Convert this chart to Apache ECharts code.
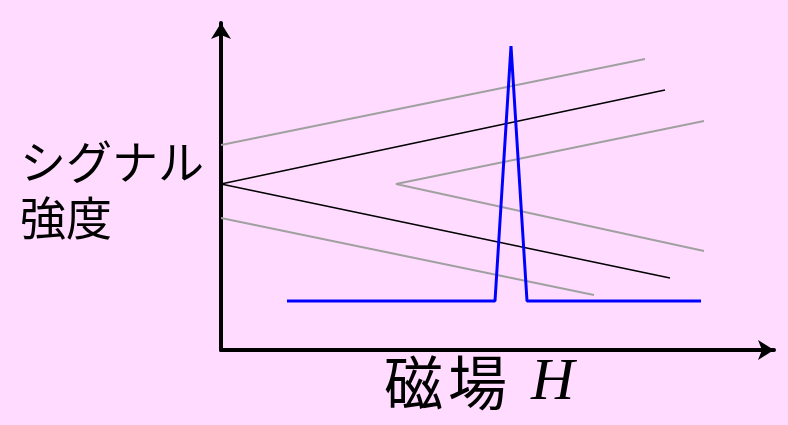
<!DOCTYPE html>
<html>
<head>
<meta charset="utf-8">
<script src="https://cdn.jsdelivr.net/npm/echarts@6/dist/echarts.min.js"></script>
<style>
  html, body { margin: 0; padding: 0; background: #ffdcff; }
  #main { width: 788px; height: 425px; }
</style>
</head>
<body>
<div id="main"></div>
<script>
// 座標は任意単位 (横: 磁場, 縦: シグナル強度)
const blackUpper = [[0, 166], [444, 260]];
const blackLower = [[0, 166], [449, 72]];
const grayUpper = [[0, 205], [424, 291]];
const grayLower = [[0, 132], [373, 55]];
const grayV = [[483, 229], [175, 166], [483, 99]];
const peak = [[66, 49], [274, 49], [290, 304], [306, 49], [480, 49]];

const chart = echarts.init(document.getElementById('main'));

function line(data, color, width) {
  return {
    type: 'line',
    data: data,
    symbol: 'none',
    silent: true,
    lineStyle: { color: color, width: width },
    animation: false
  };
}

const option = {
  backgroundColor: '#ffdcff',
  grid: { left: 221, top: 23, width: 553, height: 327 },
  xAxis: {
    type: 'value',
    min: 0,
    max: 553,
    axisLine: {
      lineStyle: { color: '#000', width: 4 },
      symbol: ['none', 'arrow'],
      symbolSize: [15, 16]
    },
    axisTick: { show: false },
    axisLabel: { show: false },
    splitLine: { show: false }
  },
  yAxis: {
    type: 'value',
    min: 0,
    max: 327,
    axisLine: {
      show: true,
      lineStyle: { color: '#000', width: 4 },
      symbol: ['none', 'arrow'],
      symbolSize: [15, 16]
    },
    axisTick: { show: false },
    axisLabel: { show: false },
    splitLine: { show: false }
  },
  graphic: [
    {
      type: 'text',
      left: 20,
      top: 134,
      style: {
        text: 'シグナル\n強度',
        font: '46px "Noto Sans CJK JP"',
        lineHeight: 56,
        fill: '#000'
      }
    },
    {
      type: 'text',
      left: 384,
      top: 353,
      style: {
        text: '{a|磁}{g| }{a|場}{s| }{b|H}',
        rich: {
          a: { font: '59px "Noto Sans CJK JP"', fill: '#000' },
          g: { font: '20px "Liberation Serif"', width: 5 },
          s: { font: '20px "Liberation Serif"', width: 24 },
          b: { font: 'italic 60px "Liberation Serif"', fill: '#000' }
        }
      }
    }
  ],
  series: [
    line(grayUpper, '#a0a0a0', 2),
    line(grayLower, '#a0a0a0', 2),
    line(grayV, '#a0a0a0', 2),
    line(blackUpper, '#000', 1.5),
    line(blackLower, '#000', 1.5),
    line(peak, '#0000ff', 3)
  ]
};

chart.setOption(option);
</script>
</body>
</html>
